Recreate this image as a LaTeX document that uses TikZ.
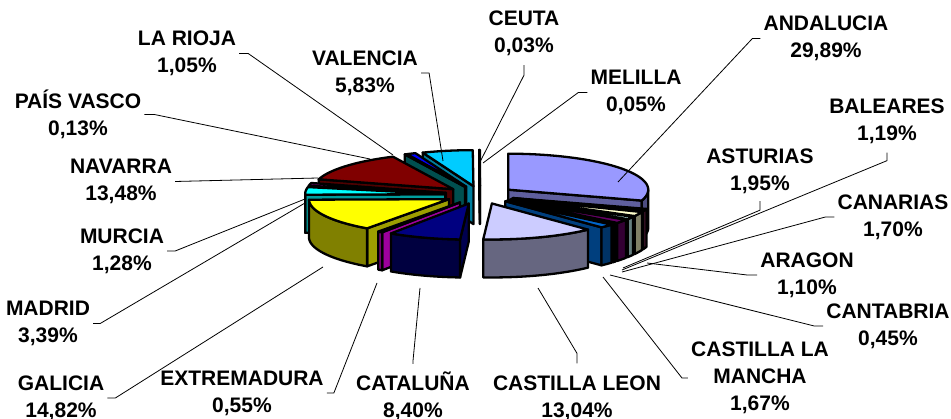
\documentclass[tikz,border=0pt]{standalone}
\usepackage{fontspec}
\setmainfont{Liberation Sans}
\def\PCX{480}\def\PCY{195}\def\PRX{140}\def\PRY{36}\def\PEX{0.25}\def\PH{38}
\tikzset{
  pieedge/.style={draw=black,line width=2.3pt,line join=round},
  lab/.style={font=\fontsize{21}{27}\selectfont\bfseries,align=center,inner sep=3pt},
  leader/.style={draw=black,line width=0.8pt}
}
\newcommand\pieslice[3]{%
  \pgfmathsetmacro\Pm{(#1+#2)/2}%
  \pgfmathsetmacro\Pox{\PCX+\PEX*\PRX*sin(\Pm)}%
  \pgfmathsetmacro\Poy{\PCY-\PEX*\PRY*cos(\Pm)}%
  \pgfmathsetmacro\Pax{\Pox+\PRX*sin(#1)}%
  \pgfmathsetmacro\Pay{\Poy-\PRY*cos(#1)}%
  \pgfmathsetmacro\Pbx{\Pox+\PRX*sin(#2)}%
  \pgfmathsetmacro\Pby{\Poy-\PRY*cos(#2)}%
  \pgfmathtruncatemacro\Pva{sin(#1)<0}%
  \pgfmathtruncatemacro\Pvb{sin(#2)>0}%
  \ifnum\Pva=1
    \filldraw[pieedge,fill=#3!62!black] (\Pox,\Poy) -- (\Pax,\Pay) -- (\Pax,\Pay+\PH) -- (\Pox,\Poy+\PH) -- cycle;
  \fi
  \ifnum\Pvb=1
    \filldraw[pieedge,fill=#3!62!black] (\Pox,\Poy) -- (\Pbx,\Pby) -- (\Pbx,\Pby+\PH) -- (\Pox,\Poy+\PH) -- cycle;
  \fi
  \pgfmathsetmacro\Plo{max(#1,90)}%
  \pgfmathsetmacro\Phix{min(#2,270)}%
  \pgfmathtruncatemacro\Pvo{\Plo<\Phix}%
  \ifnum\Pvo=1
    \filldraw[pieedge,fill=#3!50!black] plot[domain=\Plo:\Phix,samples=40,variable=\t] ({\Pox+\PRX*sin(\t)},{\Poy-\PRY*cos(\t)}) -- plot[domain=\Phix:\Plo,samples=40,variable=\t] ({\Pox+\PRX*sin(\t)},{\Poy-\PRY*cos(\t)+\PH}) -- cycle;
  \fi
  \filldraw[pieedge,fill=#3] (\Pox,\Poy) -- plot[domain=#1:#2,samples=60,variable=\t] ({\Pox+\PRX*sin(\t)},{\Poy-\PRY*cos(\t)}) -- cycle;
}
\definecolor{cAnd}{HTML}{9999FF}
\definecolor{cAra}{HTML}{993366}
\definecolor{cAst}{HTML}{FFFFCC}
\definecolor{cBal}{HTML}{CCFFFF}
\definecolor{cCan}{HTML}{660066}
\definecolor{cCtb}{HTML}{FF8080}
\definecolor{cClm}{HTML}{0066CC}
\definecolor{cCle}{HTML}{CCCCFF}
\definecolor{cCat}{HTML}{000080}
\definecolor{cExt}{HTML}{FF00FF}
\definecolor{cGal}{HTML}{FFFF00}
\definecolor{cMad}{HTML}{00FFFF}
\definecolor{cMur}{HTML}{800080}
\definecolor{cNav}{HTML}{800000}
\definecolor{cPva}{HTML}{008080}
\definecolor{cRio}{HTML}{0000FF}
\definecolor{cVal}{HTML}{00CCFF}
\definecolor{cCeu}{HTML}{CCFFFF}
\definecolor{cMel}{HTML}{CCFFCC}
\begin{document}
\begin{tikzpicture}[x=1pt,y=-1pt]
\useasboundingbox (0,0) rectangle (951,419);
% pie slices, back to front
\pieslice{359.82}{360}{cMel}
\pieslice{359.712}{359.82}{cCeu}
\pieslice{338.724}{359.712}{cVal}
\pieslice{334.944}{338.724}{cRio}
\pieslice{334.476}{334.944}{cPva}
\pieslice{285.948}{334.476}{cNav}
\pieslice{0}{107.604}{cAnd}
\pieslice{281.34}{285.948}{cMur}
\pieslice{269.136}{281.34}{cMad}
\pieslice{107.604}{111.564}{cAra}
\pieslice{111.564}{118.584}{cAst}
\pieslice{215.784}{269.136}{cGal}
\pieslice{118.584}{122.868}{cBal}
\pieslice{122.868}{128.988}{cCan}
\pieslice{128.988}{130.608}{cCtb}
\pieslice{130.608}{136.62}{cClm}
\pieslice{213.804}{215.784}{cExt}
\pieslice{136.62}{183.564}{cCle}
\pieslice{183.564}{213.804}{cCat}
% labels
\node[lab] (lrio) at (187,53.5) {LA RIOJA\\1,05\%};
\node[lab] (lval) at (365,73) {VALENCIA\\5,83\%};
\node[lab] (lpva) at (78,114.5) {PAÍS VASCO\\0,13\%};
\node[lab] (lnav) at (121,181.5) {NAVARRA\\13,48\%};
\node[lab] (lceu) at (524,33.5) {CEUTA\\0,03\%};
\node[lab] (lmel) at (636,92.5) {MELILLA\\0,05\%};
\node[lab] (land) at (826,38.5) {ANDALUCIA\\29,89\%};
\node[lab] (lbal) at (887,121) {BALEARES\\1,19\%};
\node[lab] (last) at (760,171.5) {ASTURIAS\\1,95\%};
\node[lab] (lcan) at (893,217) {CANARIAS\\1,70\%};
\node[lab] (lara) at (807,275) {ARAGON\\1,10\%};
\node[lab] (lctb) at (888,326) {CANTABRIA\\0,45\%};
\node[lab] (lclm) at (760,378) {CASTILLA LA\\MANCHA\\1,67\%};
\node[lab] (lcle) at (577,398) {CASTILLA LEON\\13,04\%};
\node[lab] (lcat) at (413,396.5) {CATALUÑA\\8,40\%};
\node[lab] (lext) at (242,393) {EXTREMADURA\\0,55\%};
\node[lab] (lgal) at (61,398) {GALICIA\\14,82\%};
\node[lab] (lmad) at (48,323.5) {MADRID\\3,39\%};
\node[lab] (lmur) at (122,251) {MURCIA\\1,28\%};
% leader targets
\coordinate (trio) at (393,155);
\coordinate (tval) at (443,161);
\coordinate (tpva) at (370,159);
\coordinate (tnav) at (318,178);
\coordinate (tceu) at (480,162);
\coordinate (tmel) at (483,163);
\coordinate (tand) at (618,182);
\coordinate (tbal) at (622,270);
\coordinate (tast) at (623,268);
\coordinate (tcan) at (622,272);
\coordinate (tara) at (647,263);
\coordinate (tctb) at (610,275);
\coordinate (tclm) at (603,277);
\coordinate (tcle) at (538,288);
\coordinate (tcat) at (420,288);
\coordinate (text) at (377,283);
\coordinate (tgal) at (323,267);
\coordinate (tmad) at (305,203);
\coordinate (tmur) at (305,199);
% leader lines
\draw[leader] (lrio.east) -- ++(9,0) -- (trio);
\draw[leader] (lval.east) -- ++(8,0) -- (tval);
\draw[leader] (lpva.east) -- ++(10,0) -- (tpva);
\draw[leader] (lnav.east) -- (tnav);
\draw[leader] (lceu.south) ++(0,6) -- ++(0,10) -- (tceu);
\draw[leader] (lmel.west) -- ++(-9,0) -- (tmel);
\draw[leader] (land.west) -- ++(-8,0) -- (tand);
\draw[leader] (lbal.south) ++(0,6) -- ++(0,8) -- (tbal);
\draw[leader] (last.south) ++(0,4) -- ++(0,9) -- (tast);
\draw[leader] (lcan.west) -- ++(-9,0) -- (tcan);
\draw[leader] (lara.west) -- ++(-10,0) -- (tara);
\draw[leader] (lctb.west) -- ++(-9,0) -- (tctb);
\draw[leader] (lclm.west) -- ++(-6,0) -- (tclm);
\draw[leader] (lcle.north) ++(0,-9) -- ++(0,-10) -- (tcle);
\draw[leader] (lcat.north) ++(0,-5) -- ++(0,-3) -- (tcat);
\draw[leader] (lext.east) -- ++(7,0) -- (text);
\draw[leader] (lgal.east) -- ++(8,0) -- (tgal);
\draw[leader] (lmad.east) -- ++(7,0) -- (tmad);
\draw[leader] (lmur.east) -- ++(8,0) -- (tmur);
\end{tikzpicture}
\end{document}
